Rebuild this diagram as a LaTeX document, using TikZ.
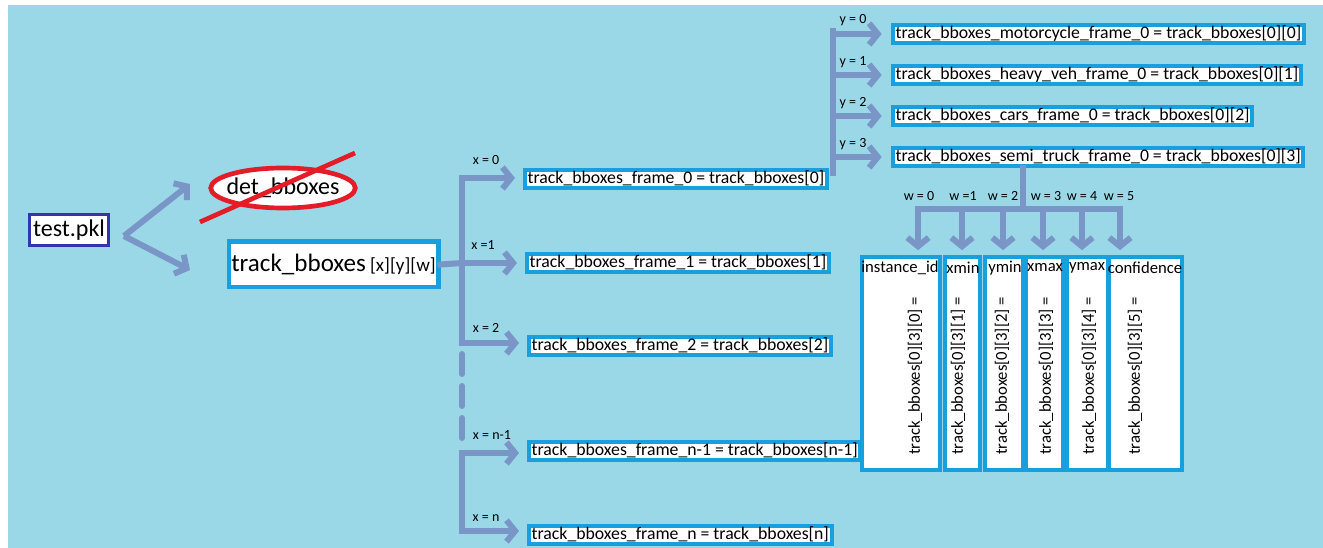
\documentclass[tikz,border=0pt]{standalone}
\usepackage{fontspec}
\setmainfont{Carlito}
\usetikzlibrary{arrows.meta,positioning,shapes.geometric}
\definecolor{sky}{RGB}{154,216,232}
\definecolor{linkc}{RGB}{122,150,198}
\definecolor{boxc}{RGB}{24,160,222}
\definecolor{navy}{RGB}{52,52,172}
\definecolor{redx}{RGB}{228,28,40}

\tikzset{
  trunk/.style={draw=linkc, line width=4.5pt, line cap=rect},
  link/.style={draw=linkc, line width=4.5pt, -{Straight Barb[length=6.5pt,width=16pt]}},
  framebox/.style={draw=boxc, line width=3pt, fill=white, anchor=west,
    inner xsep=2pt, inner ysep=0pt, text height=9.5pt, text depth=3pt,
    minimum height=14pt, font=\fontsize{13.3}{14}\selectfont},
  colbox/.style={draw=boxc, line width=3pt, fill=white, inner sep=0pt},
  idx/.style={inner sep=0pt, font=\fontsize{10.5}{11}\selectfont},
  coltext/.style={inner sep=0pt, font=\fontsize{12.5}{13}\selectfont},
}

\begin{document}
\begin{tikzpicture}[x=0.75pt, y=-0.75pt]
  \useasboundingbox (0,0) rectangle (1323,548);
  \fill[white] (0,0) rectangle (1323,548);
  \fill[sky] (8,5) rectangle (1323,548);

  % source file and its two outputs
  \node[draw=navy, line width=2.2pt, fill=white, minimum width=59pt, minimum height=23pt,
    inner sep=0pt, font=\fontsize{18}{19}\selectfont] (pkl) at (69,230) {test.pkl};
  \node[ellipse, draw=redx, line width=3.5pt, fill=white, minimum width=106pt,
    minimum height=30pt, inner xsep=-4pt, inner ysep=-1.5pt,
    font=\fontsize{18}{19}\selectfont] (det) at (283,188) {det\_bboxes};
  \draw[redx, line width=3.5pt] ([shift={(-83,34)}]det.center) coordinate (xa)
    -- ([shift={(72,-35)}]det.center) coordinate (xb);
  \node[draw=boxc, line width=3.5pt, fill=white, minimum width=157pt, minimum height=34pt,
    inner sep=0pt, font=\fontsize{18.8}{20}\selectfont] (track) at (333.5,264.5)
    {track\_bboxes\,{\fontsize{14.3}{15}\selectfont[x][y][w]}};
  \coordinate (fork) at (124,236);
  \coordinate (upTip) at (190,184);
  \coordinate (downTip) at (190,270);
  \draw[link] (fork) -- (upTip);
  \draw[link] (fork) -- (downTip);

  % frames, index x
  \foreach \name/\xx/\yy/\txt in {
      f0/523/179/{track\_bboxes\_frame\_0 = track\_bboxes[0]},
      f1/525/263/{track\_bboxes\_frame\_1 =  track\_bboxes[1]},
      f2/527/346/{track\_bboxes\_frame\_2 =  track\_bboxes[2]},
      fn1/527/451/{track\_bboxes\_frame\_n-1 = track\_bboxes[n-1]},
      fn/527/535/{track\_bboxes\_frame\_n =  track\_bboxes[n]}}{
    \node[framebox] (\name) at (\xx,\yy) {\txt};
  }
  \coordinate (t0) at (462,178);
  \coordinate (t1) at (462,263);
  \coordinate (t2) at (462,343);
  \coordinate (tn1) at (462,453);
  \coordinate (tn) at (462,531);
  \coordinate (gapA) at (462,354);
  \coordinate (gapB) at (462,440);
  \draw[trunk] (t0) -- (t2);
  \draw[trunk, line cap=round, dash pattern=on 15pt off 9pt] (gapA) -- (gapB);
  \draw[trunk] (tn1) -- (tn);
  \draw[trunk] (track.east) -- (t1);
  \foreach \t/\f in {t0/f0, t1/f1, t2/f2, tn1/fn1, tn/fn}
    \draw[link, shorten >=6pt] (\t) -- (\t -| \f.west);
  \node[idx] (lx0) at (486,160) {x = 0};
  \node[idx] (lx1) at (483,245) {x =1};
  \node[idx] (lx2) at (486,328) {x = 2};
  \node[idx] (lxn1) at (492,435) {x = n-1};
  \node[idx] (lxn) at (486,518) {x = n};

  % classes of frame 0, index y
  \foreach \name/\yy/\txt in {
      motor/34/{track\_bboxes\_motorcycle\_frame\_0 = track\_bboxes[0][0]},
      heavy/75/{track\_bboxes\_heavy\_veh\_frame\_0 = track\_bboxes[0][1]},
      cars/116/{track\_bboxes\_cars\_frame\_0 = track\_bboxes[0][2]},
      semi/157/{track\_bboxes\_semi\_truck\_frame\_0 = track\_bboxes[0][3]}}{
    \node[framebox] (\name) at (891,\yy) {\txt};
  }
  \coordinate (ytop) at (833,31);
  \coordinate (ybot) at (833,173);
  \draw[trunk] (ytop) -- (ybot);
  \foreach \f in {motor, heavy, cars, semi}
    \draw[link, shorten >=7pt] (\f.west -| ytop) -- (\f.west);
  \foreach \k/\yy in {0/20, 1/62, 2/103, 3/144}
    \node[idx] (ly\k) at (853,\yy) {y = \k};

  % fields of one box, index w
  \foreach \i/\l/\r/\hx/\ax/\head in {
      0/862/940/900/915/instance\_id,
      1/945/980/963/958/xmin,
      2/985/1023/1005/1002/ymin,
      3/1026/1063/1045/1046/xmax,
      4/1067/1108/1087/1089/ymax,
      5/1109/1182/1145/1135/confidence}{
    \pgfmathsetmacro\cw{(\r-\l)*0.75}
    \node[colbox, minimum width=\cw pt, minimum height=159pt] (c\i) at ({(\l+\r)/2},363.5) {};
    \node[coltext] (h\i) at (\hx,268) {\head};
    \node[coltext, rotate=90] (v\i) at (\ax,376) {track\_bboxes[0][3][\i] =};
  }
  \coordinate (wj) at (1023,209);
  \draw[trunk] (semi.south -| wj) -- (wj);
  \foreach \i/\xx in {0/918, 1/962, 2/1003, 3/1043, 4/1082, 5/1120}
    \coordinate (w\i) at (\xx,209);
  \draw[trunk] (w0) -- (w5);
  \foreach \i in {0,...,5}
    \draw[link, shorten >=4pt] (w\i) -- (w\i |- c\i.north);
  \foreach \i/\xx/\txt in {0/919/{w = 0}, 1/963/{w =1}, 2/1003/{w = 2},
      3/1046/{w = 3}, 4/1082/{w = 4}, 5/1119/{w = 5}}
    \node[idx] (lw\i) at (\xx,196) {\txt};
\end{tikzpicture}
\end{document}
